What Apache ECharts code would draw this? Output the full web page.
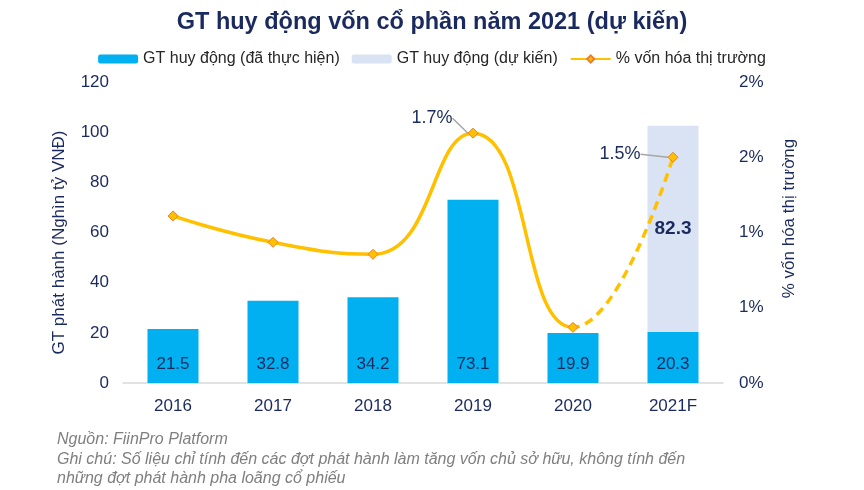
<!DOCTYPE html>
<html>
<head>
<meta charset="utf-8">
<script src="https://cdn.jsdelivr.net/npm/echarts@6/dist/echarts.min.js"></script>
<style>html,body{margin:0;padding:0;background:#fff}#c{width:864px;height:490px}</style>
</head>
<body>
<div id="c"></div>
<script>
const categories = ['2016', '2017', '2018', '2019', '2020', '2021F'];
const realized = [21.5, 32.8, 34.2, 73.1, 19.9, 20.3];
const projected = [null, null, null, null, null, 82.3];
const pctValues = [1.11, 0.935, 0.855, 1.66, 0.37, 1.5];
const pctLabels = ['', '', '', '1.7%', '', '1.5%'];
const actualLastIndex = 4;
const leftTicks = { min: 0, max: 120, interval: 20 };
const rightTicks = { min: 0, max: 2, interval: 0.5 };

const navy = '#1B2A5E';
const lineColor = '#FFC000';
const font = 'Liberation Sans, Arial, sans-serif';
const chart = echarts.init(document.getElementById('c'), null, { renderer: 'canvas' });

const lineName = '% vốn hóa thị trường';
function pctData(dashed) {
  return pctValues.map((v, i) => {
    const own = dashed ? i >= actualLastIndex + 1 : i <= actualLastIndex;
    const showLabel = own && pctLabels[i] !== '';
    return {
      value: v,
      symbol: own ? 'diamond' : 'none',
      label: { show: showLabel, formatter: pctLabels[i] }
    };
  });
}

chart.setOption({
  animation: false,
  backgroundColor: '#fff',
  title: [
    { text: 'GT huy động vốn cổ phần năm 2021 (dự kiến)', left: 'center', top: 6,
      textStyle: { fontFamily: font, fontSize: 23.5, fontWeight: 'bold', color: navy } },
    { text: 'Nguồn: FiinPro Platform\nGhi chú: Số liệu chỉ tính đến các đợt phát hành làm tăng vốn chủ sở hữu, không tính đến\nnhững đợt phát hành pha loãng cổ phiếu',
      left: 52, top: 425,
      textStyle: { fontFamily: font, fontSize: 16, fontStyle: 'italic', fontWeight: 'normal', color: '#7F7F7F', lineHeight: 19.5 } }
  ],
  legend: {
    top: 46, left: 'center', itemWidth: 40, itemHeight: 9, itemGap: 12,
    textStyle: { fontFamily: font, fontSize: 16, color: '#262626' },
    data: ['GT huy động (đã thực hiện)', 'GT huy động (dự kiến)', lineName]
  },
  visualMap: [
    { type: 'piecewise', show: false, seriesIndex: 2, dimension: 0,
      pieces: [{ gte: 0, lte: actualLastIndex, color: lineColor }],
      outOfRange: { color: 'rgba(255,192,0,0)' } },
    { type: 'piecewise', show: false, seriesIndex: 3, dimension: 0,
      pieces: [{ gte: actualLastIndex, lte: categories.length - 1, color: lineColor }],
      outOfRange: { color: 'rgba(255,192,0,0)' } }
  ],
  grid: { left: 123, right: 141, top: 82, bottom: 107 },
  xAxis: {
    type: 'category', data: categories,
    axisLine: { lineStyle: { color: '#D9D9D9', width: 1.5 } },
    axisTick: { show: false },
    axisLabel: { fontFamily: font, fontSize: 17, color: navy, margin: 15 }
  },
  yAxis: [
    { type: 'value', min: leftTicks.min, max: leftTicks.max, interval: leftTicks.interval,
      name: 'GT phát hành (Nghìn tỷ VNĐ)', nameLocation: 'middle', nameGap: 55,
      nameTextStyle: { fontFamily: font, fontSize: 17, color: navy, padding: [0, 20, 0, 0] },
      splitLine: { show: false }, axisLine: { show: false }, axisTick: { show: false },
      axisLabel: { fontFamily: font, fontSize: 17, color: navy, margin: 14 } },
    { type: 'value', min: rightTicks.min, max: rightTicks.max, interval: rightTicks.interval,
      name: '% vốn hóa thị trường', nameLocation: 'middle', nameGap: 58,
      nameTextStyle: { fontFamily: font, fontSize: 17, color: navy, padding: [0, 0, 0, 28] },
      splitLine: { show: false }, axisLine: { show: false }, axisTick: { show: false },
      axisLabel: { fontFamily: font, fontSize: 17, color: navy, margin: 16,
        formatter: v => Math.round(v) + '%' } }
  ],
  series: [
    { name: 'GT huy động (đã thực hiện)', type: 'bar', stack: 'a', data: realized, barWidth: 51,
      itemStyle: { color: '#00B0F0' },
      label: { show: true, position: 'insideBottom', distance: 10, fontFamily: font, fontSize: 17, color: navy } },
    { name: 'GT huy động (dự kiến)', type: 'bar', stack: 'a', data: projected, barWidth: 51,
      itemStyle: { color: '#DAE3F3' },
      label: { show: true, position: 'inside', fontFamily: font, fontSize: 19, fontWeight: 'bold', color: navy } },
    { name: lineName, type: 'line', yAxisIndex: 1, data: pctData(false), smooth: 0.5,
      symbol: 'diamond', symbolSize: 10, z: 5,
      lineStyle: { width: 3.5 },
      itemStyle: { color: lineColor, borderColor: '#ED7D31', borderWidth: 1 },
      label: { show: false, position: 'left', fontFamily: font, fontSize: 18, color: navy },
      labelLine: { show: true, lineStyle: { color: '#A6A6A6', width: 1.5 } },
      labelLayout: p => ({ dx: -10, dy: -15 }) },
    { name: lineName, type: 'line', yAxisIndex: 1, data: pctData(true), smooth: 0.5,
      symbol: 'diamond', symbolSize: 10, z: 5,
      lineStyle: { width: 3.5, type: [9, 6] },
      itemStyle: { color: lineColor, borderColor: '#ED7D31', borderWidth: 1 },
      label: { show: false, position: 'left', fontFamily: font, fontSize: 18, color: navy },
      labelLine: { show: true, lineStyle: { color: '#A6A6A6', width: 1.5 } },
      labelLayout: p => ({ dx: -22, dy: -3 }) }
  ]
});
</script>
</body>
</html>
